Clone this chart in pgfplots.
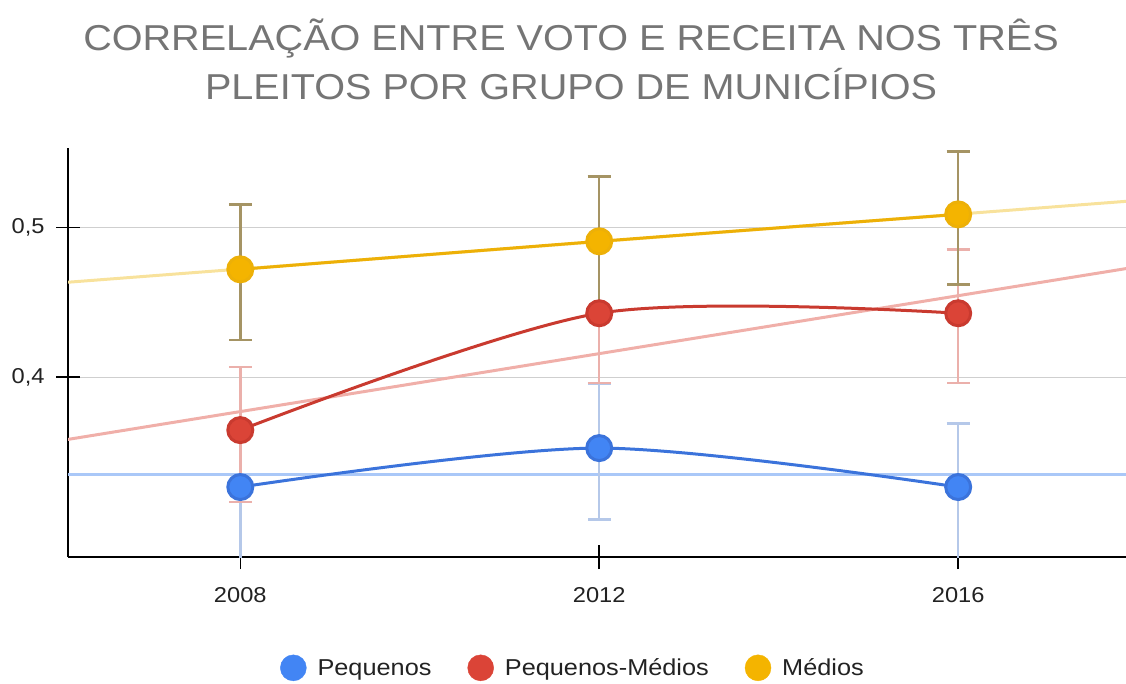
\documentclass[border=0pt]{standalone}
\usepackage{pgfplots}
\pgfplotsset{compat=1.18}
\usepackage{pgfplotstable}
\usepackage{fontspec}
\setmainfont{Liberation Sans}[FakeStretch=1.1]

\definecolor{cBlue}{HTML}{4285F4}
\definecolor{cRed}{HTML}{DB4437}
\definecolor{cYel}{HTML}{F4B400}
\definecolor{cBlueL}{HTML}{3B73DB}
\definecolor{cRedL}{HTML}{C93A2F}
\definecolor{cYelL}{HTML}{EDB007}
\definecolor{cBlueE}{HTML}{B5C8E9}
\definecolor{cRedE}{HTML}{EBB0AB}
\definecolor{cYelE}{HTML}{A59464}
\definecolor{cBlueT}{HTML}{AAC8F8}
\definecolor{cRedT}{HTML}{F0AFA9}
\definecolor{cYelT}{HTML}{F8E29C}
\definecolor{cGrid}{HTML}{CFCFCF}
\definecolor{cTitle}{HTML}{757575}
\definecolor{cTick}{HTML}{222222}

\pgfplotstableread{
x y ep em
2008 0.3267 0.043 0.05
2012 0.3527 0.043 0.0477
2016 0.3267 0.0423 0.05
}\tPeq
\pgfplotstableread{
x y ep em
2008 0.3647 0.042 0.048
2012 0.4427 0.0467 0.0467
2016 0.4427 0.0426 0.0467
}\tPM
\pgfplotstableread{
x y ep em
2008 0.472 0.0433 0.0473
2012 0.4907 0.0433 0.045
2016 0.5087 0.042 0.0467
}\tMed

\begin{document}
\begin{tikzpicture}[x=1pt,y=1pt]
\useasboundingbox (0,0) rectangle (1126,683);
\node[anchor=base, text=cTitle, font=\fontsize{36}{40}\selectfont, inner sep=0pt] at (571,632) {CORRELAÇÃO ENTRE VOTO E RECEITA NOS TRÊS};
\node[anchor=base, text=cTitle, font=\fontsize{36}{40}\selectfont, inner sep=0pt] at (571,583) {PLEITOS POR GRUPO DE MUNICÍPIOS};
\begin{axis}[
  at={(68pt,126pt)}, anchor=south west,
  scale only axis, width=1058pt, height=409pt,
  xmin=2006.08, xmax=2017.87, ymin=0.28, ymax=0.553,
  axis x line*=bottom, axis y line*=left,
  axis line style={line width=1.5pt, black},
  xtick={2008,2012,2016}, ytick={0.4,0.5},
  xticklabels={2008,2012,2016},
  yticklabels={{0,4},{0,5}},
  tick align=center, major tick length=24pt,
  tick style={line width=1.5pt, black},
  ymajorgrids, grid style={line width=1.2pt, cGrid},
  tick label style={font=\fontsize{21.5}{24}\selectfont, text=cTick},
  xticklabel style={yshift=-15pt},
  yticklabel style={xshift=-8pt},
  legend style={at={(0.4773,-0.271)}, anchor=center, draw=none, fill=none,
    font=\fontsize{23}{26}\selectfont, text=cTick, legend columns=3,
    /tikz/every even column/.append style={column sep=34pt}},
  legend image code/.code={\fill[#1] (0pt,0pt) circle (13pt); \path (-13pt,0pt) (22pt,0pt);},
]
% trend lines
\addplot[forget plot, cBlueT, line width=3pt] coordinates {(2006.08,0.3353) (2017.87,0.3353)};
\addplot[forget plot, cRedT, line width=3pt] coordinates {(2006.08,0.3585) (2017.87,0.4725)};
\addplot[forget plot, cYelT, line width=3pt] coordinates {(2006.08,0.4634) (2017.87,0.5174)};
% error bars
\addplot[forget plot, only marks, mark=none,
  error bars/.cd, y dir=both, y explicit,
  error bar style={line width=2.5pt, cBlueE},
  error mark options={rotate=90, line width=2.5pt, cBlueE, mark size=11.5pt}]
  table[x=x, y=y, y error plus=ep, y error minus=em] {\tPeq};
\addplot[forget plot, only marks, mark=none,
  error bars/.cd, y dir=both, y explicit,
  error bar style={line width=2.5pt, cRedE},
  error mark options={rotate=90, line width=2.5pt, cRedE, mark size=11.5pt}]
  table[x=x, y=y, y error plus=ep, y error minus=em] {\tPM};
\addplot[forget plot, only marks, mark=none,
  error bars/.cd, y dir=both, y explicit,
  error bar style={line width=2.5pt, cYelE},
  error mark options={rotate=90, line width=2.5pt, cYelE, mark size=11.5pt}]
  table[x=x, y=y, y error plus=ep, y error minus=em] {\tMed};
% series
\addplot[forget plot, smooth, cBlueL, line width=3pt, mark=*, mark size=12.5pt,
  mark options={draw=none, fill=cBlue}] table[x=x, y=y] {\tPeq};
\addplot[forget plot, smooth, cRedL, line width=3pt, mark=*, mark size=12.5pt,
  mark options={draw=none, fill=cRed}] table[x=x, y=y] {\tPM};
\addplot[forget plot, smooth, cYelL, line width=3pt, mark=*, mark size=12.5pt,
  mark options={draw=none, fill=cYel}] table[x=x, y=y] {\tMed};
% legend
\addlegendimage{cBlue}\addlegendentry{Pequenos}
\addlegendimage{cRed}\addlegendentry{Pequenos-Médios}
\addlegendimage{cYel}\addlegendentry{Médios}
\end{axis}
\end{tikzpicture}
\end{document}
